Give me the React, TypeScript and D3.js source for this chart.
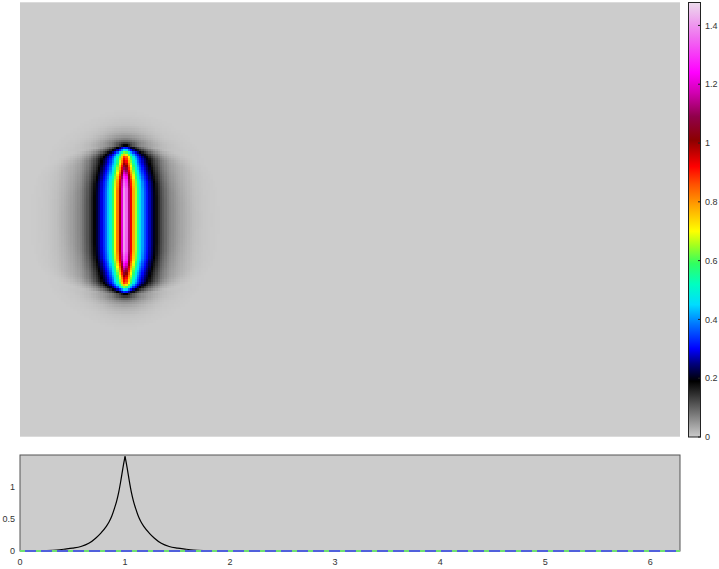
import React, { useMemo } from 'react';
import * as d3 from 'd3';

const WIDTH = 719;
const HEIGHT = 569;

// colour map (value -> colour)
const cmapValues = [0, 0.19, 0.25, 0.3, 0.38, 0.45, 0.52, 0.59, 0.65, 0.7, 0.78, 0.86, 0.92, 1.01, 1.09, 1.17, 1.24, 1.36, 1.478];
const cmapColors = ['#cccccc', '#000000', '#00007f', '#0000ff', '#0070ff', '#00dcff', '#00ffc0', '#30ff60', '#a0ff20', '#ffff00', '#ffaa00', '#ff5000', '#ff0000', '#8c0000', '#90004a', '#d000b0', '#ff00ff', '#f070f0', '#ecdcec'];
const colorMax = 1.478;
const colorbarTicks = [0, 0.2, 0.4, 0.6, 0.8, 1, 1.2, 1.4];

// cut through the middle of the pulse along x (distance from the crest -> u); also the lower plot
const rowOffsets = [0, 0.02, 0.04, 0.06, 0.08, 0.1, 0.125, 0.15, 0.18, 0.23, 0.28, 0.345, 0.42, 0.5, 0.57, 0.65, 0.75, 0.85, 1.0];
const rowValues = [1.478, 1.3, 1.1, 0.92, 0.78, 0.67, 0.55, 0.46, 0.38, 0.28, 0.2, 0.12, 0.07, 0.045, 0.03, 0.015, 0.006, 0.002, 0];

// crest height along y (distance from the centre -> u)
const colOffsets = [0, 0.276, 0.368, 0.432, 0.497, 0.533, 0.579, 0.616, 0.644, 0.667, 0.68, 0.694, 0.717, 0.754, 0.8, 0.874, 0.966, 1.057];
const colValues = [1.478, 1.47, 1.4, 1.25, 1.1, 1.01, 0.92, 0.7, 0.47, 0.32, 0.22, 0.17, 0.11, 0.06, 0.03, 0.01, 0.002, 0];

// shape of the faint shadow round the pulse ends (it is rounder than the core)
const shadowSlant = 0.6;
const shadowBlur = 0.2;

const pulseX = 1;
const pulseY = 0;
const xDomain = [0, 2 * Math.PI];
const yDomain = [-2, 2];
const xTicks = [0, 1, 2, 3, 4, 5, 6];
const lineTicks = [0, 0.5, 1];
const gridCols = 288;
const gridRows = 190;

const FONT = '"Liberation Sans", Arial, sans-serif';

const App = () => {
  // top panel
  const xScale = d3.scaleLinear().domain(xDomain).range([20, 680]);
  const yScale = d3.scaleLinear().domain(yDomain).range([436.7, 2.3]);
  const color = d3.scaleLinear<string>().domain(cmapValues).range(cmapColors)
    .interpolate(d3.interpolateRgb).clamp(true);

  // colour bar
  const cbScale = d3.scaleLinear().domain([0, colorMax]).range([437, 2.5]);

  // lower panel
  const lx = d3.scaleLinear().domain(xDomain).range([20, 680]);
  const ly = d3.scaleLinear().domain([0, 1.5]).range([551, 455]);

  const cells = useMemo(() => {
    const rowScale = d3.scaleLinear().domain(rowOffsets).range(rowValues).clamp(true);
    const colScale = d3.scaleLinear().domain(colOffsets).range(colValues).clamp(true);
    const sx = (xDomain[1] - xDomain[0]) / gridCols;
    const sy = (yDomain[1] - yDomain[0]) / gridRows;
    const out: { x0: number; x1: number; y0: number; y1: number; v: number }[] = [];
    for (let i = 0; i < gridCols; i++) {
      const x0 = xDomain[0] + i * sx;
      const dx = Math.abs(x0 + sx / 2 - pulseX);
      if (dx > rowOffsets[rowOffsets.length - 1]) continue;
      for (let j = 0; j < gridRows; j++) {
        const y0 = yDomain[0] + j * sy;
        const dy = Math.abs(y0 + sy / 2 - pulseY);
        const crest = colScale(Math.hypot(dy, shadowSlant * dx));
        const d = shadowBlur * Math.max(0, 1 - crest / 0.2);
        const v = crest * rowScale(Math.hypot(dx, d)) / rowScale(d);
        if (v < 0.001) continue;
        out.push({ x0, x1: x0 + sx, y0, y1: y0 + sy, v });
      }
    }
    return out;
  }, []);

  const leftBranch: [number, number][] = [[xDomain[0], 0], ...rowOffsets.slice().reverse().map((o, i) => [pulseX - o, rowValues[rowOffsets.length - 1 - i]] as [number, number])];
  const rightBranch: [number, number][] = [...rowOffsets.map((o, i) => [pulseX + o, rowValues[i]] as [number, number]), [xDomain[1], 0]];

  const line = d3.line<[number, number]>()
    .x(d => lx(d[0]))
    .y(d => ly(d[1]))
    .curve(d3.curveMonotoneX);

  return (
    <div style={{ position: 'absolute', left: 0, top: 0 }}>
      <svg width={WIDTH} height={HEIGHT} style={{ display: 'block', background: '#fff' }} fontFamily={FONT}>
        <defs>
          <linearGradient id="cbar" x1="0" y1="1" x2="0" y2="0">
            {cmapValues.map((v, i) => (
              <stop key={i} offset={`${(v / colorMax) * 100}%`} stopColor={cmapColors[i]} />
            ))}
          </linearGradient>
        </defs>

        {/* heat map */}
        <rect x={xScale(xDomain[0])} y={yScale(yDomain[1])}
          width={xScale(xDomain[1]) - xScale(xDomain[0])}
          height={yScale(yDomain[0]) - yScale(yDomain[1])} fill={color(0)} />
        <g shapeRendering="crispEdges">
          {cells.map((c, i) => (
            <rect key={i} x={xScale(c.x0)} y={yScale(c.y1)}
              width={xScale(c.x1) - xScale(c.x0) + 0.4}
              height={yScale(c.y0) - yScale(c.y1) + 0.4}
              fill={color(c.v)} />
          ))}
        </g>

        {/* colour bar */}
        <rect x={688.5} y={cbScale(colorMax)} width={12} height={cbScale(0) - cbScale(colorMax)}
          fill="url(#cbar)" stroke="#222" strokeWidth={1} />
        {colorbarTicks.map(t => (
          <g key={t}>
            <line x1={698} x2={700.5} y1={cbScale(t)} y2={cbScale(t)} stroke="#222" strokeWidth={1} />
            <text x={705} y={cbScale(t)} dy="0.35em" fontSize={9} fill="#333">{t}</text>
          </g>
        ))}

        {/* lower panel */}
        <rect x={lx(xDomain[0])} y={ly(1.5)} width={lx(xDomain[1]) - lx(xDomain[0])} height={ly(0) - ly(1.5)}
          fill="#cccccc" stroke="#555" strokeWidth={1} />
        <path d={line(leftBranch) || ''} fill="none" stroke="#000" strokeWidth={1.2} />
        <path d={line(rightBranch) || ''} fill="none" stroke="#000" strokeWidth={1.2} />
        <line x1={lx(xDomain[0])} x2={lx(xDomain[1])} y1={ly(0)} y2={ly(0)} stroke="#5060dc" strokeWidth={2} />
        <line x1={lx(xDomain[0])} x2={lx(xDomain[1])} y1={ly(0)} y2={ly(0)} stroke="#70e070" strokeWidth={2}
          strokeDasharray="5 11" />
        {lineTicks.map(t => (
          <text key={t} x={15} y={ly(t)} dy="0.35em" textAnchor="end" fontSize={9} fill="#333">{t}</text>
        ))}
        {xTicks.map(t => (
          <text key={t} x={lx(t)} y={565} textAnchor="middle" fontSize={9} fill="#333">{t}</text>
        ))}
      </svg>
    </div>
  );
};

export default App;
